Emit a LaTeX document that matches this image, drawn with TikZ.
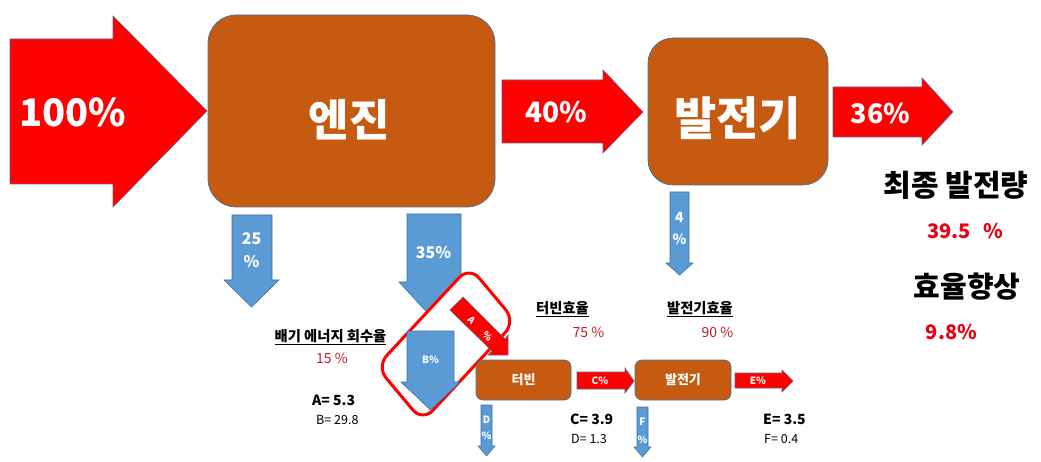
\documentclass[tikz,border=0pt]{standalone}
\usepackage{fontspec}
\setmainfont{Noto Sans CJK KR}

\definecolor{boxorange}{RGB}{198,90,17}
\definecolor{flowred}{RGB}{255,0,0}
\definecolor{lossblue}{RGB}{91,155,213}
\definecolor{edgeblue}{RGB}{65,113,156}
\definecolor{edgegray}{RGB}{105,95,130}
\definecolor{valred}{RGB}{195,30,40}
\definecolor{sumred}{RGB}{232,0,20}

\tikzset{
  unitbox/.style={draw=edgeblue, line width=0.7pt, fill=boxorange, text=white, inner sep=0pt},
  redflow/.style={draw=edgegray, line width=0.6pt, fill=flowred},
  blueflow/.style={draw=edgeblue, line width=0.6pt, fill=lossblue},
  flowtext/.style={text=white, inner sep=0pt, font=\bfseries},
  caption/.style={inner sep=0pt, font=\fontsize{14.3}{16}\selectfont\bfseries},
  rate/.style={inner sep=0pt, text=valred, font=\fontsize{14}{16}\selectfont},
  bigval/.style={inner sep=0pt, anchor=west, font=\fontsize{14}{16}\selectfont\bfseries},
  smallval/.style={inner sep=0pt, anchor=west, font=\fontsize{12.5}{14}\selectfont},
}

\begin{document}
\begin{tikzpicture}[x=1pt, y=-1pt]
  \useasboundingbox (0,0) rectangle (1041,462);

  % main flow
  \draw [redflow] (10,39) -- (113,39) -- (113,16) -- (207,111) -- (113,207) -- (113,184) -- (10,184) -- cycle;
  \node [flowtext, font=\fontsize{38}{38}\selectfont\bfseries] (fuel) at (73,112) {100\%};

  \node [unitbox, minimum width=287pt, minimum height=192pt, rounded corners=28pt] (engine) at (351.5,111) {};
  \node [flowtext, font=\fontsize{44}{44}\selectfont\bfseries] (enginetext) at (349,120) {엔진};

  \draw [redflow] (502,80) -- (603,80) -- (603,70) -- (643,112) -- (603,153) -- (603,143) -- (502,143) -- cycle;
  \node [flowtext, font=\fontsize{28}{28}\selectfont\bfseries] (shaft) at (556.5,112) {40\%};

  \node [unitbox, minimum width=180pt, minimum height=147pt, rounded corners=25pt] (gen) at (738,111.5) {};
  \node [flowtext, font=\fontsize{46}{46}\selectfont\bfseries] (gentext) at (737.5,118) {발전기};

  \draw [redflow] (833,87) -- (922,87) -- (922,78) -- (953,112) -- (922,145) -- (922,137) -- (833,137) -- cycle;
  \node [flowtext, font=\fontsize{27}{27}\selectfont\bfseries] (power) at (880.5,113) {36\%};

  % losses
  \draw [blueflow] (232,215) -- (272,215) -- (272,280) -- (279,280) -- (251.5,307) -- (224,280) -- (232,280) -- cycle;
  \node [flowtext, align=center, font=\fontsize{16}{23}\selectfont\bfseries] (cool) at (251.5,250.5) {25\\\%};

  \draw [blueflow] (407,214) -- (461,214) -- (461,282) -- (469,282) -- (434,320) -- (399,282) -- (407,282) -- cycle;
  \node [flowtext, font=\fontsize{16}{16}\selectfont\bfseries] (exhaust) at (433.5,253) {35\%};

  \draw [blueflow] (670,192) -- (689,192) -- (689,263) -- (693,263) -- (679.5,275) -- (666,263) -- (670,263) -- cycle;
  \node [flowtext, align=center, font=\fontsize{14}{22}\selectfont\bfseries] (genloss) at (679.5,229) {4\\\%};

  % recovery part
  \draw [red, line width=3pt, fill=white, rounded corners=15pt]
    (376.5,366.5) -- (469.5,266.5) -- (515.5,321.5) -- (422.5,421.5) -- cycle;

  \draw [blueflow] (407,331) -- (454,331) -- (454,382) -- (460,382) -- (430.5,410) -- (401,382) -- (407,382) -- cycle;
  \node [flowtext, font=\fontsize{10}{10}\selectfont\bfseries] (rest) at (430.5,360) {B\%};

  \draw [redflow] (450,310) -- (463,297) -- (505,339) -- (508,335) -- (508,355) -- (488,355) -- (492,351) -- cycle;
  \node [flowtext, rotate=-45, font=\fontsize{9.5}{10}\selectfont\bfseries] (recova) at (471.5,320.5) {A};
  \node [flowtext, rotate=-45, font=\fontsize{9.5}{10}\selectfont\bfseries] (recovb) at (487.5,336.5) {\%};

  \node [unitbox, minimum width=95pt, minimum height=40pt, rounded corners=7pt,
         font=\fontsize{13}{13}\selectfont\bfseries] (turb) at (523.5,380) {터빈};

  \draw [redflow] (577,372) -- (625,372) -- (625,368) -- (634,381) -- (625,393) -- (625,389) -- (577,389) -- cycle;
  \node [flowtext, font=\fontsize{10}{10}\selectfont\bfseries] (turbout) at (600,381) {C\%};

  \node [unitbox, minimum width=96pt, minimum height=40pt, rounded corners=7pt,
         font=\fontsize{13}{13}\selectfont\bfseries] (gen2) at (683,380) {발전기};

  \draw [redflow] (735,373) -- (782,373) -- (782,370) -- (793,381) -- (782,392) -- (782,388) -- (735,388) -- cycle;
  \node [flowtext, font=\fontsize{10}{10}\selectfont\bfseries] (genout) at (758,381) {E\%};

  \draw [blueflow] (481,405) -- (492,405) -- (492,446) -- (495,446) -- (486.5,456) -- (478,446) -- (481,446) -- cycle;
  \node [flowtext, align=center, font=\fontsize{10}{16}\selectfont\bfseries] (turbloss) at (486.5,428) {D\\\%};

  \draw [blueflow] (637,407) -- (648,407) -- (648,447) -- (651,447) -- (642.5,457) -- (634,447) -- (637,447) -- cycle;
  \node [flowtext, align=center, font=\fontsize{10}{18}\selectfont\bfseries] (gen2loss) at (642.5,431) {F\\\%};

  % labels and values
  \node [caption] (recrate) at (330.5,337) {\underline{배기 에너지 회수율}};
  \node [rate] (recval) at (332,358) {15 \%};
  \node [bigval] (aval) at (312,400) {A= 5.3};
  \node [smallval] (bval) at (316,420) {B= 29.8};

  \node [caption] (turbrate) at (562.5,309) {\underline{터빈효율}};
  \node [rate] (turbval) at (588.5,332) {75 \%};
  \node [bigval] (cval) at (570,419) {C= 3.9};
  \node [smallval] (dval) at (571,439) {D= 1.3};

  \node [caption] (genrate) at (700,309) {\underline{발전기효율}};
  \node [rate] (genval) at (717.5,332) {90 \%};
  \node [bigval] (eval) at (763,419) {E= 3.5};
  \node [smallval] (fval) at (764,439) {F= 0.4};

  % summary
  \node [inner sep=0pt, font=\fontsize{30}{30}\selectfont\bfseries] (total) at (956,185) {최종 발전량};
  \node [inner sep=0pt, anchor=west, text=sumred, font=\fontsize{20}{20}\selectfont\bfseries] (totval) at (927,231) {39.5\hspace{13pt}\%};
  \node [inner sep=0pt, font=\fontsize{29}{29}\selectfont\bfseries] (gain) at (967,287) {효율향상};
  \node [inner sep=0pt, text=sumred, font=\fontsize{20}{20}\selectfont\bfseries] (gainval) at (951.5,332.5) {9.8\%};
\end{tikzpicture}
\end{document}
